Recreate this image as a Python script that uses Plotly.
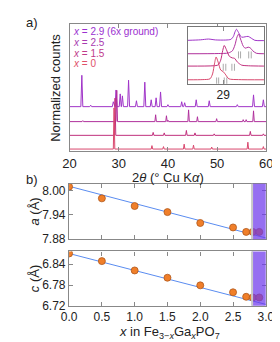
import plotly.graph_objects as go

W, H = 280, 342
FONT = "Liberation Sans, Arial, sans-serif"

# ---------------- Panel a: XRD peak lists (2θ, normalized height) ----------------
tt_x29 = [22.5, 24.3, 28.9, 29.45, 30.3, 30.75, 32.0, 33.6, 35.3, 36.6, 37.6, 38.5,
          40.0, 42.8, 43.4, 45.75, 48.4, 54.1, 57.4, 59.4]
int_x29 = [32, 1.5, 5, 17, 13, 11, 27, 6, 25, 7, 9, 15, 2, 5, 4, 7, 6, 2, 12, 7]
tt_x25 = [22.7, 29.6, 37.5, 39.7, 40.0, 44.2, 46.0, 49.9, 55.3, 55.9, 57.4]
int_x25 = [1, 32, 7, 6, 1.5, 12, 5, 3, 2, 2, 11]
tt_x15 = [29.25, 37.0, 39.25, 43.75, 45.5, 49.4, 56.75, 59.4]
int_x15 = [38, 3, 2.5, 5, 2.5, 1.5, 4, 1.5]
tt_x0 = [29.05, 36.75, 39.1, 43.3, 45.2, 48.9, 56.25, 59.4]
int_x0 = [42, 3.5, 2.5, 5, 4, 2, 7, 2.5]

series_labels = ["<i>x</i> = 2.9 (6x ground)", "<i>x</i> = 2.5", "<i>x</i> = 1.5", "<i>x</i> = 0"]

# ---------------- Inset: main reflection near 29° ----------------
ins_tt_x29 = [28.30, 28.55, 28.71, 28.85, 29.05, 29.15, 29.20, 29.23, 29.26, 29.30, 29.36,
              29.43, 29.49, 29.55, 29.62, 29.80]
ins_int_x29 = [0, 0.5, 1.3, 0.4, 0.3, 1.0, 4.0, 8.5, 11.3, 8, 3.2, 3.6, 4.0, 2.2, 0, -0.3]
ins_tt_x25 = [28.30, 28.90, 29.10, 29.18, 29.23, 29.27, 29.30, 29.34, 29.39, 29.43, 29.49,
              29.53, 29.58, 29.65, 29.80]
ins_int_x25 = [0, 0.2, 0.8, 3, 9, 17, 20, 15, 8, 5.7, 6.7, 6, 3, 0.5, 0]
ins_tt_x15 = [28.30, 28.80, 28.90, 28.95, 28.99, 29.02, 29.06, 29.12, 29.18, 29.22, 29.28,
              29.36, 29.50, 29.80]
ins_int_x15 = [0, 0.3, 1.2, 6, 16, 21, 17, 10, 8.3, 8, 4, 1, 0.3, 0]
ins_tt_x0 = [28.30, 28.60, 28.74, 28.79, 28.83, 28.86, 28.90, 28.95, 29.00, 29.05, 29.11,
             29.30, 29.80]
ins_int_x0 = [0, 0.2, 1.0, 6, 17, 23.3, 18, 10, 8.3, 5, 1, 0.2, 0]
ins_ref_x25 = [29.30, 29.34, 29.50, 29.55]
ins_ref_x15 = [29.00, 29.05, 29.17, 29.22]
ins_ref_x0 = [28.87, 28.91, 29.02, 29.07]

# ---------------- Panel b: lattice parameters ----------------
comp_x = [0.0, 0.5, 1.0, 1.5, 2.0, 2.5, 2.7, 2.8, 2.9]
lat_a = [8.010, 7.981, 7.962, 7.947, 7.920, 7.909, 7.898, 7.898, 7.898]
lat_c = [6.871, 6.849, 6.822, 6.801, 6.779, 6.759, 6.746, 6.744, 6.744]
fit_x = [0.0, 3.0]
fit_a = [8.011, 7.883]
fit_c = [6.871, 6.724]
shade_start = 2.79

# ---------------- styles ----------------
colors = ["#a035c8", "#b0309c", "#c02f7c", "#d9486e"]
label_colors = ["#9b30d0", "#a93ab0", "#c03a8a", "#e0506a"]
offsets = [45.3, 30, 16, 2]
ins_offsets = [44.3, 30.6, 18, 4]
widths = [0.2, 0.15, 0.15, 0.15]
AX = "#888888"


def pattern(pos, hts, w):
    xs, ys = [20.0], [0.0]
    for p, h in sorted(zip(pos, hts)):
        xs += [p - w, p, p + w]
        ys += [0.0, h, 0.0]
    xs.append(60.0)
    ys.append(0.0)
    return xs, ys


fig = go.Figure()

main = [(tt_x29, int_x29), (tt_x25, int_x25), (tt_x15, int_x15), (tt_x0, int_x0)]
for (pos, hts), col, off, w in zip(main, colors, offsets, widths):
    xs, ys = pattern(pos, hts, w)
    fig.add_trace(go.Scatter(x=xs, y=[v + off for v in ys], mode="lines",
                             line=dict(color=col, width=1), xaxis="x", yaxis="y",
                             showlegend=False, hoverinfo="skip"))

inset = [(ins_tt_x29, ins_int_x29), (ins_tt_x25, ins_int_x25),
         (ins_tt_x15, ins_int_x15), (ins_tt_x0, ins_int_x0)]
for (pos, hts), col, off in zip(inset, colors, ins_offsets):
    fig.add_trace(go.Scatter(x=pos, y=[v + off for v in hts], mode="lines",
                             line=dict(color=col, width=1, shape="spline", smoothing=0.7),
                             xaxis="x2", yaxis="y2", showlegend=False, hoverinfo="skip"))
for refs, off in zip([ins_ref_x25, ins_ref_x15, ins_ref_x0], ins_offsets[1:]):
    fig.add_trace(go.Scatter(x=refs, y=[off - 1.2] * len(refs), mode="markers",
                             marker=dict(symbol="line-ns", size=5,
                                         line=dict(color="#aaaaaa", width=1)),
                             xaxis="x2", yaxis="y2", showlegend=False, hoverinfo="skip"))

for fy, ly, xa, ya in [(fit_a, lat_a, "x3", "y3"), (fit_c, lat_c, "x4", "y4")]:
    fig.add_trace(go.Scatter(x=fit_x, y=fy, mode="lines",
                             line=dict(color="#5a8cf0", width=1),
                             xaxis=xa, yaxis=ya, showlegend=False, hoverinfo="skip"))
    fig.add_trace(go.Scatter(x=comp_x, y=ly, mode="markers",
                             marker=dict(color="#f07f2a", size=7,
                                         line=dict(color="#b0581c", width=0.8)),
                             xaxis=xa, yaxis=ya, showlegend=False, hoverinfo="skip"))

px = lambda v: v / W
py = lambda v: 1 - v / H

common = dict(showgrid=False, zeroline=False, showline=True, linecolor=AX, linewidth=1.3,
              mirror="ticks", ticks="inside", tickcolor=AX, ticklen=4, tickwidth=1,
              tickfont=dict(family=FONT, size=13, color="#222"))
bfont = dict(family=FONT, size=12, color="#222")

fig.update_layout(
    width=W, height=H, margin=dict(l=0, r=0, t=0, b=0),
    paper_bgcolor="white", plot_bgcolor="white",
    font=dict(family=FONT, color="#222"),
    xaxis=dict(common, domain=[px(57), px(266.5)], range=[20, 60],
               tickvals=[20, 30, 40, 50, 60], anchor="y"),
    yaxis=dict(common, domain=[py(146), py(16)], range=[0, 130], showticklabels=False,
               ticks="", anchor="x"),
    xaxis2=dict(common, domain=[px(182.7), px(264)], range=[28.3, 29.8], tickvals=[29],
                anchor="y2", linecolor="#777777", tickfont=bfont),
    yaxis2=dict(common, domain=[py(77.3), py(19.3)], range=[0, 58], showticklabels=False,
                ticks="", anchor="x2", linecolor="#777777"),
    xaxis3=dict(common, domain=[px(56.5), px(266)], range=[0, 3.0],
                tickvals=[0, 0.5, 1.0, 1.5, 2.0, 2.5, 3.0], showticklabels=False, anchor="y3"),
    yaxis3=dict(common, domain=[py(236), py(179.5)], range=[7.88, 8.017],
                tickvals=[7.88, 7.94, 8.00], tickformat=".2f", anchor="x3", tickfont=bfont),
    xaxis4=dict(common, domain=[px(56.5), px(266)], range=[0, 3.0],
                tickvals=[0, 0.5, 1.0, 1.5, 2.0, 2.5, 3.0], tickformat=".1f", anchor="y4",
                tickfont=bfont),
    yaxis4=dict(common, domain=[py(304), py(248.5)], range=[6.72, 6.877],
                tickvals=[6.72, 6.78, 6.84], tickformat=".2f", anchor="x4", tickfont=bfont),
)

shapes = []
for xa, ya in [("x3", "y3"), ("x4", "y4")]:
    shapes.append(dict(type="rect", xref=xa, yref=ya + " domain", x0=shade_start, x1=3.0,
                       y0=0, y1=1, fillcolor="rgba(110,55,235,0.72)", line=dict(width=0),
                       layer="above"))
    shapes.append(dict(type="line", xref=xa, yref=ya + " domain", x0=shade_start, x1=shade_start,
                       y0=0, y1=1, line=dict(color="#c8c8c8", width=2), layer="above"))
fig.update_layout(shapes=shapes)

ann = []
def text(x, y, s, size=13, color="#222", angle=0, xanchor="center"):
    ann.append(dict(x=px(x), y=py(y), xref="paper", yref="paper", text=s, showarrow=False,
                    xanchor=xanchor, yanchor="middle", textangle=angle,
                    font=dict(family=FONT, size=size, color=color)))

text(8, 15, "a)", xanchor="left")
text(8, 175, "b)", xanchor="left")
text(42, 81, "Normalized counts", angle=-90)
text(161.5, 173, "2<i>θ</i> (° Cu K<i>α</i>)")
text(20, 208, "<i>a</i> (Å)", angle=-90)
text(20, 276, "<i>c</i> (Å)", angle=-90)
text(163, 331, "<i>x</i> in Fe<sub>3−<i>x</i></sub>Ga<sub><i>x</i></sub>PO<sub>7</sub>")
for lab, col, yy in zip(series_labels, label_colors, [24, 35, 46, 57]):
    text(59, yy, lab, size=10, color=col, xanchor="left")
fig.update_layout(annotations=ann)

fig.write_html("out.html")
